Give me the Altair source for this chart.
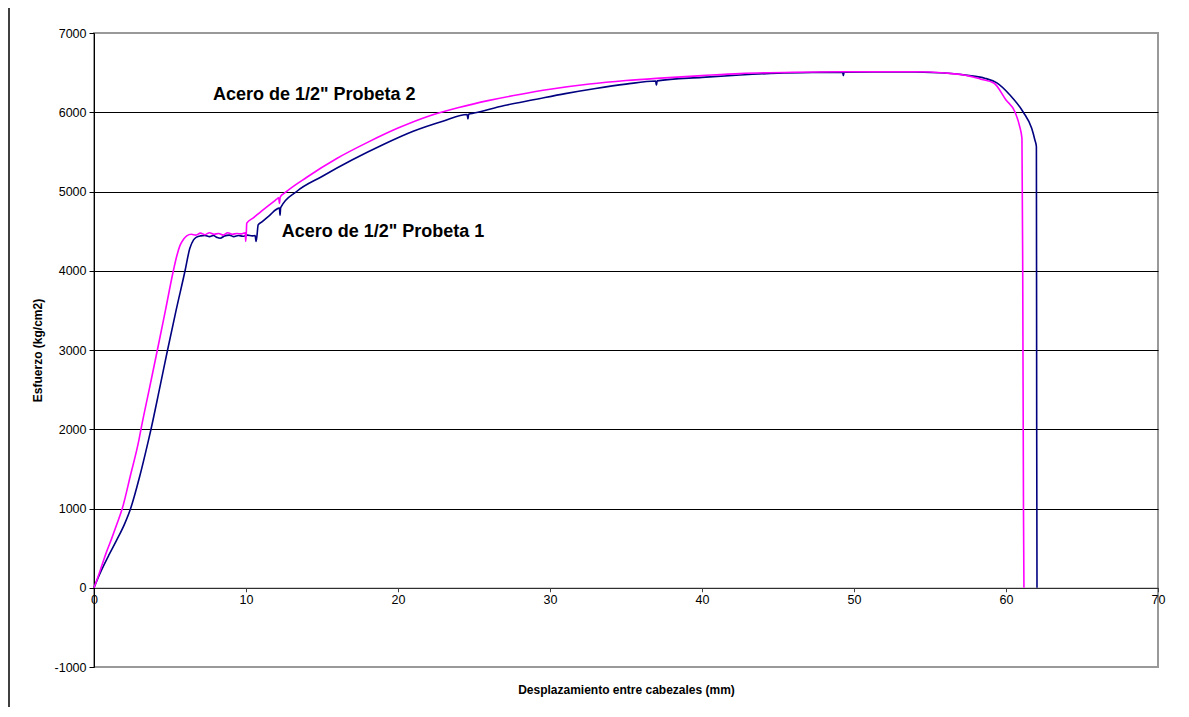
import altair as alt
import pandas as pd

# Probeta 1 (navy)
p1_x = [0, 0.3, 0.61, 1.0, 1.49, 2.0, 2.41, 3.0, 3.57, 3.75, 4.3, 4.84, 5.4, 5.99, 6.3, 6.55, 6.75,
        7.0, 7.3, 7.6, 7.85, 8.1, 8.3, 8.6, 8.9, 9.2, 9.5, 9.8, 10.1, 10.4, 10.6, 10.66, 10.72, 10.8,
        11.0, 11.5, 12.2, 12.24, 12.28, 13.33, 15.0, 17.0, 19.0, 21.0, 23.0, 24.55, 24.6, 24.65,
        25.0, 27.0, 29.0, 31.0, 33.0, 35.0, 36.95, 37.0, 37.05, 40.0, 42.5, 45.0, 47.5, 49.25, 49.3, 49.35,
        52.0, 54.0, 56.0, 57.6, 58.6, 59.4, 60.26, 61.14, 61.69, 61.9, 62.0, 62.02, 62.04]
p1_y = [0, 140, 270, 420, 600, 800, 1000, 1400, 1850, 2000, 2500, 3000, 3500, 4000, 4280, 4390, 4425,
        4440, 4445, 4430, 4445, 4420, 4410, 4440, 4450, 4430, 4445, 4435, 4450, 4440, 4445, 4370, 4440, 4578,
        4610, 4690, 4790, 4700, 4796, 5000, 5190, 5400, 5590, 5760, 5890, 5972, 5915, 5975,
        5990, 6085, 6160, 6235, 6300, 6355, 6394, 6340, 6396, 6440, 6470, 6492, 6502, 6506, 6462, 6506,
        6510, 6508, 6495, 6462, 6430, 6370, 6217, 6000, 5797, 5650, 5565, 2000, 0]

# Probeta 2 (magenta)
p2_x = [0, 0.25, 0.5, 0.8, 1.16, 1.5, 1.86, 2.4, 2.96, 3.09, 3.63, 4.17, 4.7, 5.22, 5.45, 5.66, 5.9,
        6.1, 6.4, 6.7, 7.0, 7.3, 7.6, 7.9, 8.2, 8.5, 8.8, 9.1, 9.4, 9.7, 9.95, 9.98, 10.02, 10.05, 10.5,
        11.0, 12.0, 12.15, 12.2, 12.25, 12.57, 14.0, 16.0, 18.0, 20.0, 22.0, 24.0, 26.0, 28.0, 30.0,
        32.6, 35.0, 37.0, 40.0, 42.5, 46.0, 50.0, 54.0, 56.0, 57.6, 58.3, 59.2, 60.0, 60.6, 60.9, 61.05,
        61.1, 61.15, 61.18]
p2_y = [0, 130, 270, 440, 620, 800, 1000, 1420, 1870, 2000, 2500, 3000, 3500, 4000, 4190, 4320, 4400,
        4440, 4460, 4450, 4475, 4455, 4480, 4460, 4470, 4450, 4480, 4460, 4470, 4465, 4480, 4370, 4480, 4600, 4670,
        4750, 4900, 4922, 4850, 4930, 4985, 5180, 5420, 5620, 5800, 5950, 6060, 6150, 6225, 6290,
        6356, 6400, 6428, 6462, 6488, 6505, 6511, 6511, 6495, 6456, 6420, 6369, 6154, 6000, 5820, 5670,
        4000, 1000, 0]

label_text = ['Acero de 1/2" Probeta 2', 'Acero de 1/2" Probeta 1']
label_x = [7.83, 12.35]
label_y = [6217, 4493]

x_ticks = [0, 10, 20, 30, 40, 50, 60, 70]
y_ticks = [-1000, 0, 1000, 2000, 3000, 4000, 5000, 6000, 7000]

FONT = "Liberation Sans, Arial, sans-serif"

df1 = pd.DataFrame({"x": p1_x, "y": p1_y, "i": list(range(len(p1_x)))})
df2 = pd.DataFrame({"x": p2_x, "y": p2_y, "i": list(range(len(p2_x)))})
dfl = pd.DataFrame({"x": label_x, "y": label_y, "t": label_text})

xs = alt.Scale(domain=[0, 70], nice=False, zero=False)
ys = alt.Scale(domain=[-1000, 7000], nice=False, zero=False)

x_axis = alt.Axis(
    values=x_ticks, offset=-79.25, grid=False, labelFlush=False, labelOverlap=False,
    domainColor="#404040", tickColor="#404040", tickSize=4,
    labelFontSize=12.5, labelPadding=2, labelColor="black", labelFont=FONT,
    labelExpr="'' + datum.value",
    title="Desplazamiento entre cabezales (mm)", titleFontSize=12, titleFontWeight="bold",
    titleFont=FONT, titleColor="black", titleY=102, titleBaseline="middle",
)
y_axis = alt.Axis(
    values=y_ticks, grid=True, labelFlush=False, labelOverlap=False,
    gridColor={"condition": {"test": "datum.value == 7000 || datum.value == -1000", "value": "transparent"},
               "value": "#000000"},
    gridWidth=1,
    domainColor="black", tickColor="black", tickSize=5,
    labelFontSize=12.5, labelPadding=3, labelColor="black", labelFont=FONT,
    labelExpr="'' + datum.value",
    title="Esfuerzo (kg/cm2)", titleFontSize=12, titleFontWeight="bold", titleFont=FONT,
    titleColor="black", titleX=-57, titleY=317, titleAngle=-90, titleAlign="center",
    titleBaseline="middle",
)

line1 = alt.Chart(df1).mark_line(color="#000080", strokeWidth=1.6, interpolate="monotone").encode(
    x=alt.X("x:Q", scale=xs, axis=x_axis),
    y=alt.Y("y:Q", scale=ys, axis=y_axis),
    order="i:Q",
)
line2 = alt.Chart(df2).mark_line(color="#FF00FF", strokeWidth=1.6, interpolate="monotone").encode(
    x=alt.X("x:Q", scale=xs),
    y=alt.Y("y:Q", scale=ys),
    order="i:Q",
)
labels = alt.Chart(dfl).mark_text(
    align="left", baseline="middle", fontSize=18, fontWeight="bold", font=FONT, color="black"
).encode(
    x=alt.X("x:Q", scale=xs),
    y=alt.Y("y:Q", scale=ys),
    text="t:N",
)
frame = alt.Chart(pd.DataFrame({"d": [0]})).mark_rule(color="black", strokeWidth=1.5).encode(
    x=alt.value(-85), y=alt.value(-25), y2=alt.value(674)
)

chart = alt.layer(line1, line2, labels, frame).properties(
    width=1064, height=634,
    padding={"left": 86, "top": 25, "right": 20, "bottom": 40},
    autosize=alt.AutoSizeParams(type="none"),
    background="white",
).configure_view(stroke="#999999", strokeWidth=2)

chart.save("out.html", embed_options={"renderer": "svg", "actions": False})
